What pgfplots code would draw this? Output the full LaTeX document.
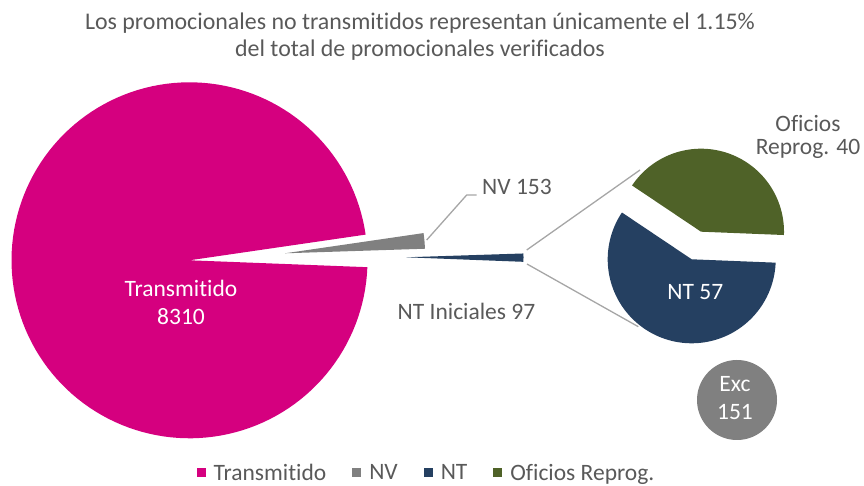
\documentclass[border=0pt]{standalone}
\usepackage{fontspec}
\setmainfont{Carlito}[Ligatures=NoCommon]
\usepackage{pgfplots}
\pgfplotsset{compat=1.18}
\definecolor{cTrans}{HTML}{D5007F}
\definecolor{cNV}{HTML}{808080}
\definecolor{cNT}{HTML}{254061}
\definecolor{cOfi}{HTML}{4F6228}
\definecolor{txt}{HTML}{595959}
\definecolor{lin}{HTML}{A6A6A6}
% data
\def\vTrans{8310}
\def\vNV{153}
\def\vNTi{97}
\def\vNTf{57}
\def\vOfi{40}
\def\vExc{151}
\begin{document}%
\begin{tikzpicture}
\pgfmathsetmacro{\TotA}{\vTrans+\vNV+\vNTi}
\pgfmathsetmacro{\aTrans}{360*(\vTrans/\TotA)}
\pgfmathsetmacro{\aNV}{360*(\vNV/\TotA)}
\pgfmathsetmacro{\aNTi}{360*(\vNTi/\TotA)}
\pgfmathsetmacro{\sA}{8.3}
\pgfmathsetmacro{\eTrans}{\sA+\aTrans}
\pgfmathsetmacro{\sNV}{\sA-\aNV}
\pgfmathsetmacro{\sNT}{\sNV-\aNTi}
\pgfmathsetmacro{\TotB}{\vNTf+\vOfi}
\pgfmathsetmacro{\aOfi}{360*(\vOfi/\TotB)}
\pgfmathsetmacro{\sB}{-2.3}
\pgfmathsetmacro{\eOfi}{\sB+\aOfi}
\pgfmathsetmacro{\eNTf}{\sB+360}
\begin{axis}[
  scale only axis, width=864pt, height=486pt,
  xmin=0, xmax=864, ymin=0, ymax=486,
  hide axis, clip=false, xtick=\empty, ytick=\empty,
  legend columns=4,
  legend cell align=left,
  legend image code/.code={\fill[#1] (0pt,-4.5pt) rectangle (9pt,4.5pt);},
  legend style={at={(axis cs:426.5,13)}, anchor=center, draw=none, fill=none,
    inner sep=0pt,
    font=\fontsize{23.5}{26}\selectfont, text=txt,
    /tikz/every odd column/.append style={column sep=6pt},
    /tikz/every even column/.append style={column sep=24pt}},
]
% main pie
\addplot[fill=cTrans, draw=none, domain=\sA:\eTrans, samples=150, variable=\t]
  ({189.5+178*cos(\t)},{225.7+178*sin(\t)}) -- (axis cs:189.5,225.7) -- cycle;
\addlegendentry{Transmitido}
\addplot[fill=cNV, draw=none, domain=\sNV:\sA, samples=10, variable=\t]
  ({285+140*cos(\t)},{232.7+140*sin(\t)}) -- (axis cs:285,232.7) -- cycle;
\addlegendentry{NV}
\addplot[fill=cNT, draw=none, domain=\sNT:\sNV, samples=10, variable=\t]
  ({406+117.5*cos(\t)},{228.7+117.5*sin(\t)}) -- (axis cs:406,228.7) -- cycle;
\addlegendentry{NT}
% second pie
\addplot[forget plot, fill=cNT, draw=none, domain=\eOfi:\eNTf, samples=120, variable=\t]
  ({691.7+84*cos(\t)},{226.7+84*sin(\t)}) -- (axis cs:691.7,226.7) -- cycle;
\addplot[fill=cOfi, draw=none, domain=\sB:\eOfi, samples=100, variable=\t]
  ({701+83*cos(\t)},{254.3+83*sin(\t)}) -- (axis cs:701,254.3) -- cycle;
\addlegendentry{Oficios Reprog.}
% Exc bubble
\addplot[forget plot, fill=cNV, draw=none, domain=0:360, samples=120, variable=\t]
  ({737+40*cos(\t)},{86+40*sin(\t)}) -- cycle;
% connector lines
\addplot[forget plot, lin, line width=1.3pt] coordinates {(426.7,246) (466.7,291) (476.7,291)};
\addplot[forget plot, lin, line width=1.3pt] coordinates {(526.7,236) (640,316)};
\addplot[forget plot, lin, line width=1.3pt] coordinates {(527,222) (638.3,159.3)};
% title
\node[anchor=base, text=txt, font=\fontsize{23.9}{27}\selectfont] at (axis cs:420,456) {Los promocionales no transmitidos representan únicamente el 1.15\%};
\node[anchor=base, text=txt, font=\fontsize{23.9}{27}\selectfont] at (axis cs:420,429) {del total de promocionales verificados};
% data labels
\begin{scope}[font=\fontsize{23.5}{27}\selectfont]
\node[anchor=base, text=white] at (axis cs:181,189.3) {Transmitido};
\node[anchor=base, text=white] at (axis cs:181,161) {\vTrans};
\node[anchor=base, text=txt] at (axis cs:517,291) {NV \vNV};
\node[anchor=base, text=txt] at (axis cs:466.5,166.7) {NT Iniciales \vNTi};
\node[anchor=base, text=white] at (axis cs:695.3,186) {NT \vNTf};
\node[anchor=base, text=txt] at (axis cs:808,354.3) {Oficios};
\node[anchor=base, text=txt] at (axis cs:808,331) {Reprog. \vOfi};
\node[anchor=base, text=white] at (axis cs:735,94.3) {Exc};
\node[anchor=base, text=white] at (axis cs:735,66) {\vExc};
\end{scope}
\end{axis}
\pgfresetboundingbox
\path[use as bounding box] (current axis.south west) rectangle (current axis.north east);
\end{tikzpicture}%
\end{document}
